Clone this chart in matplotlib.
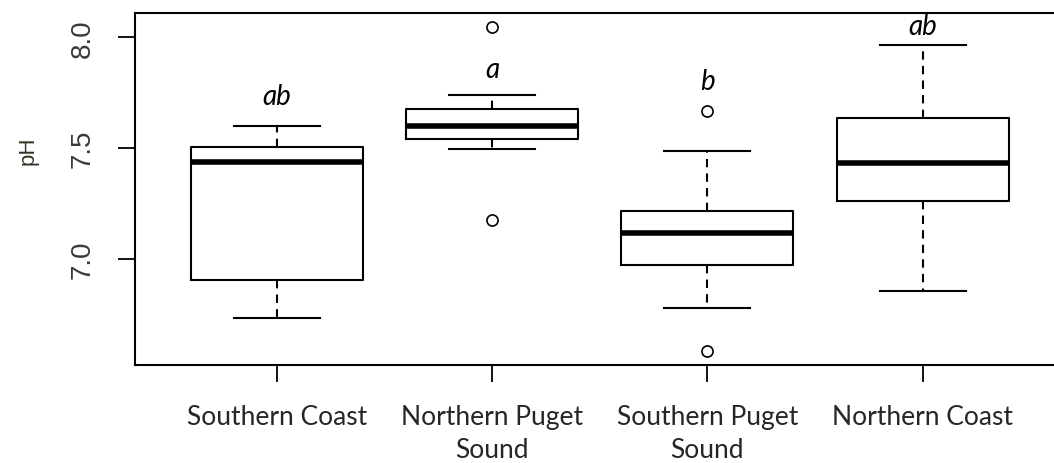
import matplotlib
matplotlib.use('Agg')
import matplotlib.pyplot as plt

# values
sites = ['Southern Coast', 'Northern Puget\nSound', 'Southern Puget\nSound', 'Northern Coast']
whislo = [6.734, 7.498, 6.778, 6.854]
q1 = [6.905, 7.541, 6.973, 7.262]
med = [7.438, 7.600, 7.117, 7.432]
q3 = [7.507, 7.675, 7.218, 7.635]
whishi = [7.600, 7.741, 7.489, 7.964]
fliers = [[], [8.048, 7.176], [7.669, 6.584], []]
letters = ['ab', 'a', 'b', 'ab']
letter_y = [7.737, 7.857, 7.804, 8.052]
yticks = [7.0, 7.5, 8.0]

stats = []
for i in range(len(sites)):
    stats.append(dict(whislo=whislo[i], q1=q1[i], med=med[i], q3=q3[i],
                      whishi=whishi[i], fliers=fliers[i]))

W, H = 1054, 464
fig = plt.figure(figsize=(W / 100, H / 100), dpi=100)
left, right, top, bottom = 135, 1064.6, 14.3, 365.7
ax = fig.add_axes([left / W, 1 - bottom / H, (right - left) / W, (bottom - top) / H])

pos = list(range(1, len(sites) + 1))
ax.bxp(stats, positions=pos, widths=0.8, capwidths=0.4, patch_artist=False,
       boxprops=dict(color='black', lw=1.5),
       whiskerprops=dict(color='black', lw=1.5, linestyle=(0, (4, 3))),
       capprops=dict(color='black', lw=1.5),
       medianprops=dict(color='black', lw=4.0, solid_capstyle='butt'),
       flierprops=dict(marker='o', markerfacecolor='none', markeredgecolor='black',
                       markersize=8, markeredgewidth=1.2))

for i, (t, y) in enumerate(zip(letters, letter_y)):
    ax.text(pos[i], y, t, ha='center', va='center', fontsize=20, style='italic',
            family='Lato', color='black')

ax.set_xlim(0.34, 4.66)
ax.set_ylim(6.523, 8.108)
ax.set_xticks(pos)
ax.set_xticklabels(sites, family='Lato', fontsize=19, color='#262626', linespacing=1.4)
ax.set_yticks(yticks)
ax.set_yticklabels(['%.1f' % v for v in yticks], family='Liberation Sans', fontsize=20,
                   color='#3a3a3a', rotation=90, va='center')
ax.tick_params(axis='both', length=12, width=1.3, color='black', direction='out')
ax.tick_params(axis='x', pad=16)
ax.tick_params(axis='y', pad=16)
for s in ax.spines.values():
    s.set_linewidth(1.5)

ax.set_ylabel('pH', family='Liberation Sans', fontsize=16, color='#333325')
ax.yaxis.set_label_coords(-0.115, 0.611)
ax.yaxis.label.set_verticalalignment('center')

fig.savefig('out.png', dpi=100)
